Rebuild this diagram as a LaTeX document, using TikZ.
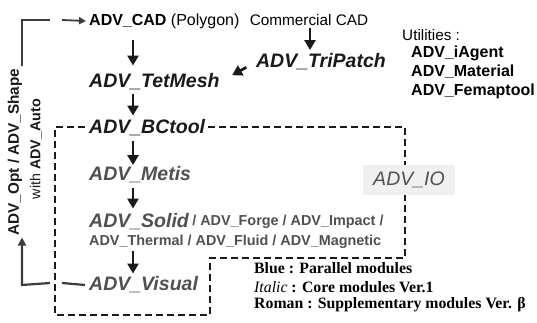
\documentclass[tikz,border=0pt]{standalone}
\usepackage{fontspec}
\setmainfont{Liberation Sans}
\newfontfamily\legfont{Liberation Serif}
\usetikzlibrary{arrows.meta}
\definecolor{core}{HTML}{1A1A1A}
\definecolor{para}{HTML}{505050}
\definecolor{fbc}{HTML}{3C3C3C}
\begin{document}
\begin{tikzpicture}[x=1pt,y=-1pt,
  mod/.style={anchor=west,inner sep=0pt,font=\fontsize{19.5}{20}\selectfont\bfseries\itshape},
  coremod/.style={mod,text=core},
  parmod/.style={mod,text=para},
  sub/.style={anchor=west,inner sep=0pt,font=\fontsize{14.4}{15}\selectfont\bfseries,text=para},
  plain/.style={inner sep=0pt,font=\fontsize{15.3}{16}\selectfont},
  util/.style={anchor=west,inner sep=0pt,font=\fontsize{16}{16}\selectfont\bfseries},
  leg/.style={anchor=west,inner sep=0pt,font=\fontsize{15.8}{16}\selectfont\legfont\bfseries},
  arr/.style={-{Triangle[length=10pt,width=11pt]},line width=2.8pt,core},
  fb/.style={line width=2.2pt,fbc},
  dbox/.style={line width=2.3pt,dash pattern=on 7pt off 4pt,core}
]
\useasboundingbox (0,0) rectangle (537,323);
% dashed box
\draw[dbox] (85,127) -- (55,127) -- (55,315) -- (210,315) -- (210,258) -- (405,258) -- (405,127) -- (207,127);
% nodes
\node[anchor=west,inner sep=0pt,font=\fontsize{16}{16}\selectfont\bfseries] (cad) at (89,21) {ADV\_CAD};
\node[anchor=west,inner sep=0pt,font=\fontsize{16}{16}\selectfont] (poly) at ([xshift=4pt]cad.east) {(Polygon)};
\node[plain] (com) at (309,20) {Commercial CAD};
\node[coremod,anchor=center] (tri) at (321,62) {ADV\_TriPatch};
\node[coremod] (tet) at (89,82) {ADV\_TetMesh};
\node[coremod] (bct) at (89,128) {ADV\_BCtool};
\node[parmod] (met) at (89,175) {ADV\_Metis};
\node[parmod] (sol) at (89,222) {ADV\_Solid};
\node[sub] (solx) at ([xshift=3pt]sol.east) {/ ADV\_Forge / ADV\_Impact /};
\node[sub] (thm) at (89,242) {ADV\_Thermal / ADV\_Fluid / ADV\_Magnetic};
\node[parmod] (vis) at (89,285) {ADV\_Visual};
\node[fill=black!6,inner xsep=10pt,inner ysep=7pt,text=para,font=\fontsize{19.5}{20}\selectfont\itshape] (io) at (409,180) {ADV\_IO};
% utilities
\node[anchor=west,inner sep=0pt,font=\fontsize{15.3}{16}\selectfont] (utl) at (402,35) {Utilities :};
\node[util] (ia) at (411,53) {ADV\_iAgent};
\node[util] (mat) at (411,72) {ADV\_Material};
\node[util] (fem) at (411,91) {ADV\_Femaptool};
% rotated labels
\node[rotate=90,inner sep=0pt,font=\fontsize{15.3}{16}\selectfont\bfseries,text=core] (opt) at (15,152) {ADV\_Opt / ADV\_Shape};
\node[rotate=90,inner sep=0pt,font=\fontsize{14.3}{15}\selectfont,text=core] (with) at (36,149) {with \textbf{ADV\_Auto}};
% legend
\node[leg] (l1) at (254,268) {Blue : Parallel modules};
\node[leg] (l2) at (254,287) {\mdseries\itshape Italic\/\upshape\bfseries\ : Core modules Ver.1};
\node[leg] (l3) at (254,305) {Roman : Supplementary modules Ver. β};
% main arrows
\coordinate (ax) at (133,0);
\draw[arr,shorten <=12pt,shorten >=8pt] (ax |- cad.south) -- (ax |- tet.north);
\draw[arr,shorten <=4pt,shorten >=4pt] (ax |- tet.south) -- (ax |- bct.north);
\draw[arr,shorten <=5pt,shorten >=1.5pt] (ax |- bct.south) -- (ax |- met.north);
\draw[arr,shorten <=4.5pt,shorten >=5pt] (ax |- met.south) -- (ax |- sol.north);
\draw[arr,shorten <=1.7pt,shorten >=3pt] (ax |- thm.south) -- (ax |- vis.north);
\coordinate (bx) at (310,0);
\draw[arr,shorten <=2.5pt,shorten >=3.5pt] (bx |- com.south) -- (bx |- tri.north);
\draw[arr,shorten <=11pt,shorten >=14pt] (tri.west) -- (tet.east);
% feedback loop
\coordinate (fbl) at (22,0);
\draw[fb] ([xshift=-4pt]vis.west) -- (62,283);
\draw[fb,-{Triangle[length=8pt,width=8pt]}] (50,283) -- (fbl |- vis.west) -- ([yshift=-2pt]fbl |- opt.west);
\draw[fb] ([yshift=2pt]fbl |- opt.east) -- (22,20) -- (50,20);
\draw[fb,-{Triangle[length=7pt,width=7pt]},line width=1.8pt] (62,20) -- ([xshift=-3pt]cad.west);
\end{tikzpicture}
\end{document}
